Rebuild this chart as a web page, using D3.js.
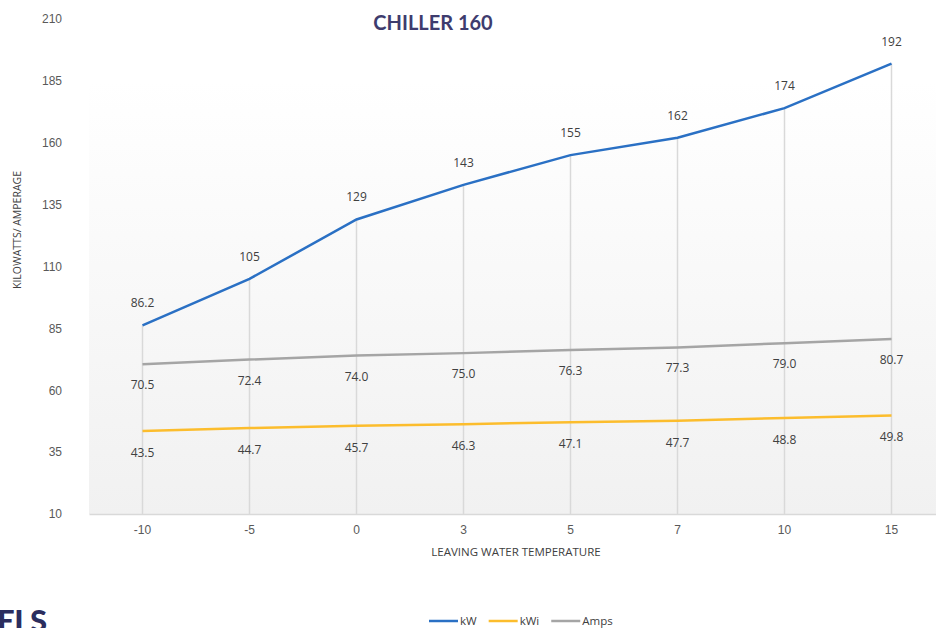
<!DOCTYPE html>
<html>
<head>
<meta charset="utf-8">
<script src="https://cdn.jsdelivr.net/npm/d3@7"></script>
<style>
  body { margin: 0; background: #fff; }
  svg { display: block; font-family: "Open Sans", sans-serif; }
  .tick text { fill: #595959; font-size: 12px; }
  .lbl { fill: #404040; font-size: 12px; }
</style>
</head>
<body>
<script>
// chart data
var temps = ["-10", "-5", "0", "3", "5", "7", "10", "15"];
var kW = [86.2, 105, 129, 143, 155, 162, 174, 192];
var kWi = [43.5, 44.7, 45.7, 46.3, 47.1, 47.7, 48.8, 49.8];
var amps = [70.5, 72.4, 74.0, 75.0, 76.3, 77.3, 79.0, 80.7];
var yTicks = [10, 35, 60, 85, 110, 135, 160, 185, 210];

var width = 936,
    height = 628;

var svg = d3.select("body")
    .append("svg")
    .attr("width", width)
    .attr("height", height);

// scales
var x = d3.scaleBand()
    .domain(temps)
    .range([89, 945]);

var y = d3.scaleLinear()
    .domain([10, 210])
    .range([514, 19]);

var cx = function(d){ return x(d) + x.bandwidth() / 2; };

// plot background gradient
var grad = svg.append("defs").append("linearGradient")
    .attr("id", "bg")
    .attr("x1", 0).attr("y1", 0)
    .attr("x2", 0).attr("y2", 1);
grad.append("stop").attr("offset", "0%").attr("stop-color", "#ffffff");
grad.append("stop").attr("offset", "100%").attr("stop-color", "#f1f1f1");

svg.append("rect")
    .attr("x", 89)
    .attr("y", y(185))
    .attr("width", width - 89)
    .attr("height", y(10) - y(185))
    .attr("fill", "url(#bg)");

// drop lines from top series to axis
svg.selectAll(".drop")
    .data(temps)
    .enter()
    .append("line")
    .attr("class", "drop")
    .attr("x1", cx)
    .attr("x2", cx)
    .attr("y1", function(d, i){ return y(kW[i]); })
    .attr("y2", y(10))
    .attr("stroke", "#d9d9d9")
    .attr("stroke-width", 1.5);

// y axis
var yAxis = svg.append("g")
    .attr("transform", "translate(62,0)")
    .call(d3.axisLeft(y).tickValues(yTicks).tickSize(0).tickPadding(0));
yAxis.select(".domain").remove();
yAxis.selectAll("text").attr("dy", "0.32em");

// x axis
var xAxis = svg.append("g")
    .attr("transform", "translate(0," + y(10) + ")")
    .call(d3.axisBottom(x).tickSize(0).tickPadding(11));
xAxis.select(".domain")
    .attr("stroke", "#d9d9d9")
    .attr("stroke-width", 1.5);

// series lines
var series = [
    {name: "kW", values: kW, color: "#2a70c4", dy: -18},
    {name: "kWi", values: kWi, color: "#fcbd2d", dy: 26},
    {name: "Amps", values: amps, color: "#a5a5a5", dy: 25}
];

var line = d3.line()
    .x(function(d, i){ return cx(temps[i]); })
    .y(function(d){ return y(d); });

series.forEach(function(s){
    svg.append("path")
        .datum(s.values)
        .attr("fill", "none")
        .attr("stroke", s.color)
        .attr("stroke-width", 2.5)
        .attr("d", line);

    svg.selectAll(".lbl-" + s.name)
        .data(s.values)
        .enter()
        .append("text")
        .attr("class", "lbl")
        .attr("x", function(d, i){ return cx(temps[i]); })
        .attr("y", function(d){ return y(d) + s.dy; })
        .attr("text-anchor", "middle")
        .text(function(d){ return s.name === "kW" ? d : d.toFixed(1); });
});

// titles
svg.append("text")
    .attr("x", 433)
    .attr("y", 30)
    .attr("text-anchor", "middle")
    .attr("font-family", "Lato, sans-serif")
    .attr("font-weight", "bold")
    .attr("font-size", 20)
    .attr("fill", "#3e3c6e")
    .text("CHILLER 160");

svg.append("text")
    .attr("transform", "translate(21,230) rotate(-90)")
    .attr("text-anchor", "middle")
    .attr("font-size", 10.5)
    .attr("fill", "#404040")
    .text("KILOWATTS/ AMPERAGE");

svg.append("text")
    .attr("x", 516)
    .attr("y", 556)
    .attr("text-anchor", "middle")
    .attr("font-size", 11.5)
    .attr("fill", "#404040")
    .text("LEAVING WATER TEMPERATURE");

// legend
var legend = svg.append("g").attr("transform", "translate(429,621)");
var lx = 0;
series.forEach(function(s){
    legend.append("line")
        .attr("x1", lx).attr("x2", lx + 29)
        .attr("y1", 0).attr("y2", 0)
        .attr("stroke", s.color)
        .attr("stroke-width", 2.5);
    var t = legend.append("text")
        .attr("x", lx + 31)
        .attr("y", 4)
        .attr("font-size", 11.5)
        .attr("fill", "#404040")
        .text(s.name);
    lx += 31 + t.node().getComputedTextLength() + 12;
});

// cropped heading from page
svg.append("text")
    .attr("x", -3)
    .attr("y", 632)
    .attr("font-family", "Lato, sans-serif")
    .attr("font-weight", "900")
    .attr("font-size", 31)
    .attr("letter-spacing", -0.5)
    .attr("fill", "#2b2d5e")
    .text("ELS");
</script>
</body>
</html>
